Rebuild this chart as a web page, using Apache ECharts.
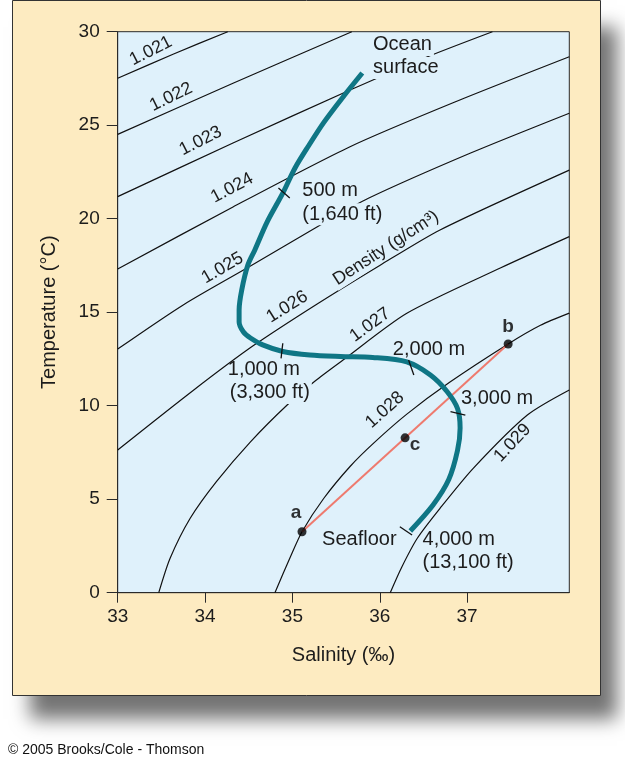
<!DOCTYPE html>
<html>
<head>
<meta charset="utf-8">
<script src="https://cdn.jsdelivr.net/npm/echarts@6/dist/echarts.min.js"></script>
<style>
html,body{margin:0;padding:0;background:#ffffff;}
#chart{width:625px;height:767px;}
</style>
</head>
<body>
<div id="chart"></div>
<script>
// ---------------- data ----------------
const salinityTicks = [33, 34, 35, 36, 37];
const temperatureTicks = [0, 5, 10, 15, 20, 25, 30];
const isopycnalLabels = ['1.021', '1.022', '1.023', '1.024', '1.025', '1.026', '1.027', '1.028', '1.029'];

// isopycnals: [salinity ‰, temperature °C]
const iso1021 = [[33, 27.51], [33.64, 28.81], [34.26, 30]];
const iso1022 = [[33, 24.51], [34.32, 27.24], [35.68, 30]];
const iso1023 = [[33, 21.18], [34.32, 24.05], [35.66, 26.88], [36.54, 28.65], [37.29, 30]];
const iso1024 = [[33, 17.31], [34.32, 20.63], [35.66, 23.85], [36.86, 26.24], [38.17, 28.66]];
const iso1025 = [[33, 13.03], [33.75, 15.39], [34.52, 17.47], [35.32, 19.66], [35.87, 21.09], [37.04, 23.51], [38.17, 25.64]];
const iso1026 = [[33, 7.63], [33.86, 10.8], [34.55, 13.2], [35.27, 15.4], [36.0, 17.5], [36.69, 19.4], [38.17, 22.6]];
const iso1027 = [[33.47, 0], [33.6, 1.84], [33.83, 3.98], [34.13, 5.94], [34.52, 8.07], [34.94, 10.04], [35.26, 11.32], [35.58, 12.44], [36.31, 14.94], [37.38, 17.36], [38.17, 19.04]];
const iso1028 = [[34.8, 0], [34.97, 1.84], [35.11, 3.26], [35.36, 5.05], [35.66, 6.75], [35.93, 8.0], [36.31, 9.55], [36.8, 11.25], [37.47, 13.3], [37.84, 14.3], [38.17, 14.95]];
const iso1029 = [[36.12, 0], [36.25, 1.35], [36.43, 2.91], [36.69, 4.51], [37.07, 6.65], [37.69, 9.5], [38.17, 10.84]];
const isopycnals = [iso1021, iso1022, iso1023, iso1024, iso1025, iso1026, iso1027, iso1028, iso1029];

// water-column T-S profile, surface to seafloor
const profile = [
  [35.80, 27.79], [35.58, 26.51], [35.36, 25.15], [35.18, 23.86], [35.03, 22.71],
  [34.89, 21.37], [34.71, 19.82], [34.57, 18.33], [34.49, 17.52], [34.42, 16.19], [34.39, 15.12],
  [34.39, 14.48], [34.44, 13.94], [34.52, 13.62], [34.66, 13.25], [34.89, 12.90], [35.20, 12.71],
  [35.55, 12.63], [35.92, 12.58], [36.31, 12.34], [36.58, 11.64], [36.77, 10.76], [36.89, 9.85],
  [36.92, 8.81], [36.89, 7.60], [36.79, 6.05], [36.61, 4.69], [36.35, 3.30]
];

// depth marks across the profile (two ends each)
const depthMarks = [
  [[34.84, 21.64], [34.97, 21.11]],
  [[34.89, 13.34], [34.87, 12.53]],
  [[36.33, 12.44], [36.39, 11.64]],
  [[36.81, 9.68], [36.98, 9.50]],
  [[36.23, 3.53], [36.37, 3.09]]
];

// mixing example a – b, c midway
const pointNames = ['a', 'b', 'c'];
const pointValues = [[35.11, 3.26], [37.47, 13.3], [36.29, 8.28]];

// ---------------- styling / layout ----------------
const FONT = '"Liberation Sans", Arial, Helvetica, sans-serif';
const PLOT_BG = '#dff1fb';
const PANEL_BG = '#fdebc1';
const INK = '#1c1c1c';

const chart = echarts.init(document.getElementById('chart'), null, {renderer: 'canvas'});

const series = [];
isopycnals.forEach((d, i) => {
  series.push({
    type: 'line', name: isopycnalLabels[i], data: d, smooth: 0.25,
    symbol: 'none', lineStyle: {color: '#111', width: 1.2}, z: 2, silent: true
  });
});
series.push({
  type: 'line', name: 'transect', data: [pointValues[0], pointValues[1]], symbol: 'none',
  lineStyle: {color: '#ee7a6e', width: 2}, z: 3, silent: true
});
series.push({
  type: 'line', name: 'profile', data: profile, smooth: 0.3, symbol: 'none',
  lineStyle: {color: '#0f7685', width: 5, cap: 'butt'}, z: 4, silent: true
});
depthMarks.forEach(d => {
  series.push({
    type: 'line', data: d, symbol: 'none', lineStyle: {color: '#111', width: 1.3}, z: 5, silent: true
  });
});
const labelOffsets = [[-6, 0], [0, 2], [10, 26]];
series.push({
  type: 'scatter', name: 'points', symbolSize: 9, itemStyle: {color: '#000'}, z: 6,
  data: pointValues.map((v, i) => ({
    value: v, name: pointNames[i],
    label: {show: true, position: 'top', formatter: pointNames[i], offset: labelOffsets[i],
      fontFamily: FONT, fontSize: 19, fontWeight: 'bold', color: '#000'}
  }))
});

chart.setOption({
  animation: false,
  grid: {left: 117.7, top: 31.7, right: 55.7, bottom: 174.3, show: true,
    backgroundColor: PLOT_BG, borderColor: '#2a2a2a', borderWidth: 1},
  xAxis: {
    type: 'value', min: 33, max: 38.17,
    name: 'Salinity (‰)', nameLocation: 'middle', nameGap: 53,
    nameTextStyle: {fontFamily: FONT, fontSize: 20, color: INK},
    axisLine: {show: true, onZero: false, lineStyle: {color: '#2a2a2a', width: 1}},
    axisTick: {show: true, length: 10, customValues: salinityTicks, lineStyle: {color: '#2a2a2a'}},
    axisLabel: {customValues: salinityTicks, fontFamily: FONT, fontSize: 19, color: INK, margin: 15},
    splitLine: {show: false}
  },
  yAxis: {
    type: 'value', min: 0, max: 30, interval: 5,
    name: 'Temperature (°C)', nameLocation: 'middle', nameGap: 58, nameRotate: 90,
    nameTextStyle: {fontFamily: FONT, fontSize: 20, color: INK},
    axisLine: {show: true, onZero: false, lineStyle: {color: '#2a2a2a', width: 1}},
    axisTick: {show: true, length: 11, customValues: temperatureTicks, lineStyle: {color: '#2a2a2a'}},
    axisLabel: {customValues: temperatureTicks, fontFamily: FONT, fontSize: 19, color: INK, margin: 18},
    splitLine: {show: false}
  },
  series: series
});

// annotation anchors in data coordinates
const isoLabelAnchors = [[33.38, 28.97], [33.61, 26.51], [33.95, 24.16], [34.31, 21.64], [34.20, 17.36],
  [34.94, 15.28], [35.89, 14.32], [36.06, 9.77], [37.52, 8.01]];
const isoLabelAngles = [27, 26, 27, 28, 30, 32, 36, 42, 47];
const noteTexts = ['Ocean', 'surface', '500 m', '(1,640 ft)', '1,000 m', '(3,300 ft)', '2,000 m', '3,000 m', 'Seafloor', '4,000 m', '(13,100 ft)'];
const noteAnchors = [[35.90, 29.29], [35.90, 28.06], [35.09, 21.53], [35.09, 20.24], [34.26, 11.91], [34.26, 10.68],
  [36.15, 12.98], [36.93, 10.36], [35.34, 2.82], [36.49, 2.82], [36.49, 1.59]];
const noteMasked = [true, true, true, true, false, true, false, false, false, false, false];

function px(v) { return chart.convertToPixel({gridIndex: 0}, v); }
function textEl(str, p, o) {
  return {
    type: 'text', x: p[0], y: p[1], rotation: (o.rot || 0) * Math.PI / 180, z: o.z || 50, silent: true,
    style: {
      text: str, fill: INK, fontFamily: FONT, fontSize: o.size || 20, fontWeight: o.weight || 'normal',
      align: o.align || 'left', textAlign: o.align || 'left',
      verticalAlign: 'middle', textVerticalAlign: 'middle',
      backgroundColor: o.mask ? PLOT_BG : null, padding: o.mask ? [1, 2] : 0
    }
  };
}

const graphics = [];
// panel shadow and panel
graphics.push({type: 'rect', z: -20, silent: true,
  shape: {x: -1000 + 30, y: 27, width: 587, height: 692},
  style: {fill: '#000', shadowBlur: 18, shadowColor: 'rgba(0,0,0,0.55)', shadowOffsetX: 1000, shadowOffsetY: 0}});
graphics.push({type: 'rect', z: -10, silent: true,
  shape: {x: 12.5, y: 0.5, width: 588, height: 695},
  style: {fill: PANEL_BG, stroke: '#333', lineWidth: 1}});

isopycnalLabels.forEach((t, i) => {
  graphics.push(textEl(t, px(isoLabelAnchors[i]), {rot: isoLabelAngles[i], size: 18, align: 'center'}));
});
graphics.push(textEl('Density (g/cm³)', px([36.07, 18.43]), {rot: 33, size: 18, align: 'center', mask: true}));
noteTexts.forEach((t, i) => {
  graphics.push(textEl(t, px(noteAnchors[i]), {size: 20, align: 'left', mask: noteMasked[i]}));
});
graphics.push({type: 'text', x: 8, y: 750, z: 50, silent: true,
  style: {text: '© 2005 Brooks/Cole - Thomson', fill: '#111', fontFamily: FONT, fontSize: 14,
    align: 'left', textAlign: 'left', verticalAlign: 'middle', textVerticalAlign: 'middle'}});

chart.setOption({graphic: {elements: graphics}});
</script>
</body>
</html>
